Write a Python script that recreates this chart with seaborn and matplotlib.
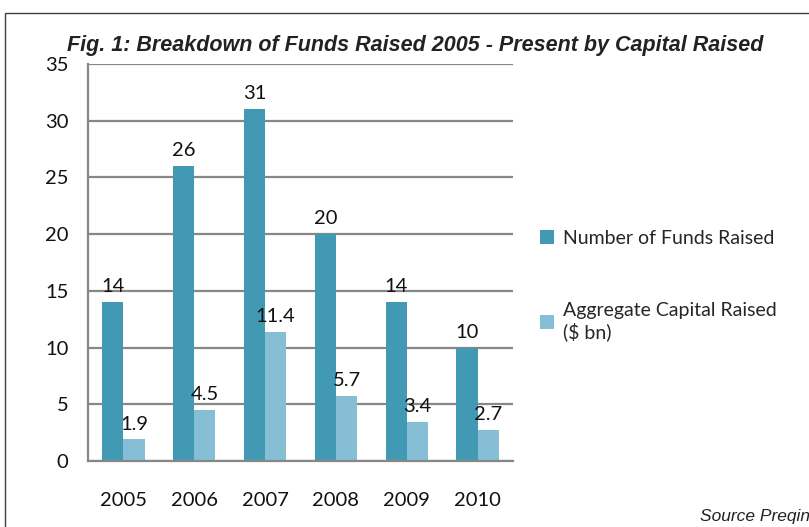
import numpy as np
import pandas as pd
import matplotlib
matplotlib.use('Agg')
import matplotlib.pyplot as plt
import seaborn as sns
from matplotlib.patches import Rectangle

years = ['2005', '2006', '2007', '2008', '2009', '2010']
num_funds = [14, 26, 31, 20, 14, 10]
agg_capital = [1.9, 4.5, 11.4, 5.7, 3.4, 2.7]
series_names = ['Number of Funds Raised', 'Aggregate Capital Raised\n($ bn)']
colors = ['#4299b4', '#86bfd5']

df = pd.DataFrame({
    'year': years * 2,
    'value': num_funds + agg_capital,
    'series': [series_names[0]] * len(years) + [series_names[1]] * len(years),
})

sns.set_style('white')
plt.rcParams['font.family'] = ['Lato', 'DejaVu Sans']

fig = plt.figure(figsize=(8.09, 5.27), dpi=100)
ax = fig.add_axes([88 / 809, 66 / 527, 425 / 809, 397 / 527])

sns.barplot(data=df, x='year', y='value', hue='series', palette=colors,
            width=0.6, gap=0, saturation=1, ax=ax, edgecolor='none')

for cont in ax.containers:
    ax.bar_label(cont, fmt='%g', padding=5, fontsize=14.5, color='#111111')

ax.set_xlim(-0.5, 5.5)
ax.set_ylim(0, 35)
ax.set_yticks(range(0, 36, 5))
ax.yaxis.grid(True, color='#878787', linewidth=1.6)
ax.set_axisbelow(True)
ax.set_xlabel('')
ax.set_ylabel('')
for side in ['top', 'right']:
    ax.spines[side].set_visible(False)
for side in ['left', 'bottom']:
    ax.spines[side].set_color('#878787')
    ax.spines[side].set_linewidth(1.6)
ax.tick_params(axis='both', length=0, labelsize=14.5, colors='#111111')
ax.tick_params(axis='x', pad=22)
ax.tick_params(axis='y', pad=14)

ax.legend(loc='upper left', bbox_to_anchor=(522 / 809, 1 - 212 / 527),
          bbox_transform=fig.transFigure, frameon=False, fontsize=14,
          handlelength=0.75, handleheight=0.75, handletextpad=0.45,
          labelspacing=2.85)

# outer frame
fig.patches.append(Rectangle((5 / 809, -0.1), 1.2, 1.1 - 13 / 527,
                             transform=fig.transFigure, fill=False,
                             edgecolor='#404040', linewidth=1.0))

fig.text(415 / 809, 1 - 45 / 527,
         'Fig. 1: Breakdown of Funds Raised 2005 - Present by Capital Raised',
         family=['Liberation Sans', 'DejaVu Sans'], fontsize=15.5,
         fontweight='bold', fontstyle='italic', ha='center', va='center',
         color='#222222')
fig.text(700 / 809, 1 - 516 / 527, 'Source Preqin',
         family=['Liberation Sans', 'DejaVu Sans'], fontsize=12.5,
         fontstyle='italic', ha='left', va='center', color='#222222')

fig.savefig('out.png', dpi=100)
